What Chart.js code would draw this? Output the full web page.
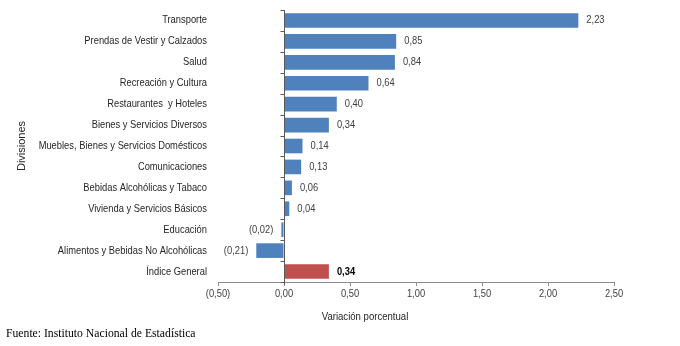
<!DOCTYPE html>
<html>
<head>
<meta charset="utf-8">
<script src="https://cdn.jsdelivr.net/npm/chart.js@4/dist/chart.umd.min.js"></script>
<style>
    html, body { margin: 0; padding: 0; background: #fff; }
    #area { position: relative; width: 680px; height: 346px; }
    #tituloX {
        position: absolute; left: 265px; top: 310px; width: 200px;
        text-align: center; line-height: 14px;
        font: 11px "Liberation Sans", Arial, sans-serif; color: #262626;
        transform: scaleX(0.87);
    }
    #fonte {
        position: absolute; left: 6px; top: 327px; line-height: 14px;
        font: 11.7px "Liberation Serif", "Times New Roman", serif; color: #000;
    }
</style>
</head>
<body>
<div id="area">
    <canvas id="grafico" width="680" height="346"></canvas>
    <div id="tituloX">Variación porcentual</div>
    <div id="fonte">Fuente: Instituto Nacional de Estadística</div>
</div>
<script>
const categorias = [
    'Transporte',
    'Prendas de Vestir y Calzados',
    'Salud',
    'Recreación y Cultura',
    'Restaurantes  y Hoteles',
    'Bienes y Servicios Diversos',
    'Muebles, Bienes y Servicios Domésticos',
    'Comunicaciones',
    'Bebidas Alcohólicas y Tabaco',
    'Vivienda y Servicios Básicos',
    'Educación',
    'Alimentos y Bebidas No Alcohólicas',
    'Índice General'
];
const variacoes = [2.23, 0.85, 0.84, 0.64, 0.40, 0.34, 0.14, 0.13, 0.06, 0.04, -0.02, -0.21, 0.34];
const eixoMin = -0.5;
const eixoMax = 2.5;
const eixoPasso = 0.5;

const FONTE = '"Liberation Sans", Arial, sans-serif';
const ESTREITO = 0.85;   // o original tem o texto comprimido na horizontal
const indiceGeral = categorias.length - 1;

function formatar(v) {
    const txt = Math.abs(v).toFixed(2).replace('.', ',');
    return v < 0 ? `(${txt})` : txt;
}

function textoEstreito(ctx, txt, x, y, align) {
    ctx.save();
    ctx.translate(x, y);
    ctx.scale(ESTREITO, 1);
    ctx.textAlign = align;
    ctx.fillText(txt, 0, 0);
    ctx.restore();
}

// linha vertical no zero com as marcas das categorias
const eixoZero = {
    id: 'eixoZero',
    afterDatasetsDraw(chart) {
        const { ctx, chartArea, scales: { x, y } } = chart;
        const x0 = Math.round(x.getPixelForValue(0)) + 0.5;
        ctx.save();
        ctx.strokeStyle = '#595959';
        ctx.lineWidth = 1;
        ctx.beginPath();
        ctx.moveTo(x0, chartArea.top);
        ctx.lineTo(x0, chartArea.bottom + 3);
        for (let i = 0; i <= categorias.length; i++) {
            const yy = Math.round(y.getPixelForValue(i - 0.5)) + 0.5;
            ctx.moveTo(x0 - 4, yy);
            ctx.lineTo(x0, yy);
        }
        ctx.stroke();
        ctx.restore();
    }
};

// textos: categorias, ticks do eixo x e rótulos das barras
const textos = {
    id: 'textos',
    afterDatasetsDraw(chart) {
        const { ctx, chartArea, scales: { x, y } } = chart;
        ctx.save();
        ctx.textBaseline = 'middle';
        ctx.font = '11px ' + FONTE;
        ctx.fillStyle = '#262626';
        categorias.forEach((c, i) => {
            textoEstreito(ctx, c, chartArea.left - 11, y.getPixelForValue(i), 'right');
        });

        ctx.fillStyle = '#404040';
        x.ticks.forEach(t => {
            textoEstreito(ctx, formatar(t.value), x.getPixelForValue(t.value), chartArea.bottom + 12, 'center');
        });

        const meta = chart.getDatasetMeta(0);
        meta.data.forEach((barra, i) => {
            const v = variacoes[i];
            ctx.font = (i === indiceGeral ? 'bold ' : '') + '11px ' + FONTE;
            ctx.fillStyle = i === indiceGeral ? '#000' : '#404040';
            textoEstreito(ctx, formatar(v), barra.x + (v < 0 ? -8 : 8), barra.y, v < 0 ? 'right' : 'left');
        });
        ctx.restore();
    }
};

new Chart(document.getElementById('grafico').getContext('2d'), {
    type: 'bar',
    data: {
        labels: categorias,
        datasets: [{
            data: variacoes,
            backgroundColor: ctx => ctx.dataIndex === indiceGeral ? '#C0504D' : '#4F81BD',
            borderWidth: 0,
            categoryPercentage: 1,
            barPercentage: 0.7
        }]
    },
    options: {
        indexAxis: 'y',
        responsive: false,
        animation: false,
        layout: { padding: { top: 10, right: 66, left: 0, bottom: 0 } },
        plugins: {
            legend: { display: false },
            tooltip: { enabled: false }
        },
        scales: {
            x: {
                min: eixoMin,
                max: eixoMax,
                ticks: { stepSize: eixoPasso, display: false },
                grid: {
                    display: true,
                    drawOnChartArea: false,
                    drawTicks: true,
                    tickLength: 4,
                    color: '#8c8c8c'
                },
                border: { display: true, color: '#8c8c8c' },
                afterFit: s => { s.height = 64; }
            },
            y: {
                grid: { display: false },
                border: { display: false },
                ticks: { display: false },
                title: {
                    display: true,
                    text: 'Divisiones',
                    color: '#262626',
                    font: { family: FONTE, size: 11 },
                    padding: { top: 15, bottom: 0 }
                },
                afterFit: s => { s.width = 218; }
            }
        }
    },
    plugins: [eixoZero, textos]
});
</script>
</body>
</html>
